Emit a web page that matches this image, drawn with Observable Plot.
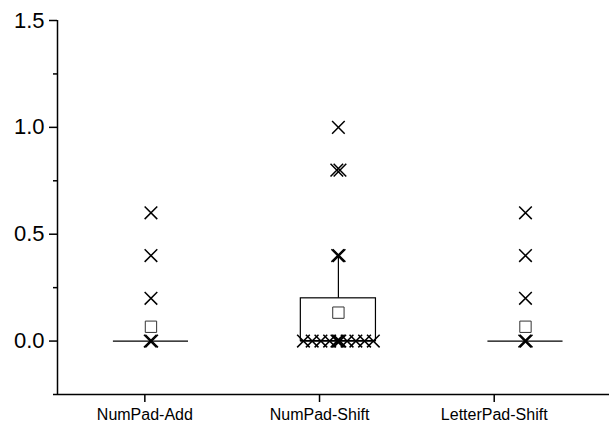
<!DOCTYPE html>
<html>
<head>
<meta charset="utf-8">
<script src="https://cdn.jsdelivr.net/npm/d3@7"></script>
<script src="https://cdn.jsdelivr.net/npm/@observablehq/plot@0.6"></script>
<style>
  html, body { margin: 0; padding: 0; background: #fff; }
  #chart svg { display: block; }
</style>
</head>
<body>
<div id="chart"></div>
<script>
// Categories and where their labels sit on the axis
const groups = ["NumPad-Add", "NumPad-Shift", "LetterPad-Shift"];
const groupTicks = [1, 2, 3];
// Box centres along the x axis
const boxPositions = [1.035, 2.108, 3.179];
const boxHalfWidth = 0.215;

// Box statistics per category
const q1 = [0, 0, 0];
const q3 = [0, 0.2, 0];
const medians = [0, 0, 0];
const whiskerLow = [0, 0, 0];
const whiskerHigh = [0, 0.4, 0];
const means = [0.067, 0.133, 0.067];

// Individual observations: category index, spread from box centre, value
const pointGroup = [
  0, 0, 0, 0, 0,
  1, 1, 1, 1, 1, 1, 1, 1, 1, 1, 1, 1, 1, 1, 1, 1,
  2, 2, 2, 2, 2
];
const pointSpread = [
  -0.004, 0.004, 0, 0, 0,
  -0.2, -0.15, -0.1, -0.05, -0.008, 0, 0.008, 0.05, 0.1, 0.15, 0.2, -0.004, 0.004, -0.009, 0.009, 0,
  -0.004, 0.004, 0, 0, 0
];
const pointValue = [
  0, 0, 0.2, 0.4, 0.6,
  0, 0, 0, 0, 0, 0, 0, 0, 0, 0, 0, 0.4, 0.4, 0.8, 0.8, 1.0,
  0, 0, 0.2, 0.4, 0.6
];

// Y axis ticks
const majorTicks = [0, 0.5, 1.0, 1.5];
const minorTicks = [-0.25, 0.25, 0.75, 1.25];

const boxes = groups.map((g, i) => ({
  group: g, x: boxPositions[i], q1: q1[i], q3: q3[i], median: medians[i],
  lo: whiskerLow[i], hi: whiskerHigh[i], mean: means[i]
}));
const points = pointValue.map((v, i) => ({
  x: boxPositions[pointGroup[i]] + pointSpread[i], value: v
}));

const font = "'Liberation Sans', Arial, sans-serif";

const chart = Plot.plot({
  width: 610,
  height: 425,
  marginLeft: 57,
  marginRight: 1,
  marginTop: 20,
  marginBottom: 31,
  style: { fontFamily: font, background: "#fff", color: "#000" },
  x: { type: "linear", domain: [0.5, 3.66] },
  y: { domain: [-0.25, 1.5] },
  marks: [
    // boxes
    Plot.rect(boxes, {
      x1: d => d.x - boxHalfWidth, x2: d => d.x + boxHalfWidth,
      y1: "q1", y2: "q3", fill: "#fff", stroke: "#000", strokeWidth: 1.2
    }),
    // whiskers
    Plot.ruleX(boxes, { x: "x", y1: "q3", y2: "hi", stroke: "#000", strokeWidth: 1.2 }),
    Plot.ruleX(boxes, { x: "x", y1: "lo", y2: "q1", stroke: "#000", strokeWidth: 1.2 }),
    // medians
    Plot.ruleY(boxes, {
      y: "median", x1: d => d.x - boxHalfWidth, x2: d => d.x + boxHalfWidth,
      stroke: "#000", strokeWidth: 1.2
    }),
    // means
    Plot.dot(boxes, { x: "x", y: "mean", symbol: "square", r: 6.4, fill: "#fff", stroke: "#333", strokeWidth: 1 }),
    // observations
    Plot.dot(points, { x: "x", y: "value", symbol: "times", r: 5.8, stroke: "#000", strokeWidth: 1.5 }),
    // axis lines
    Plot.ruleX([0.5], { stroke: "#000", strokeWidth: 1.5 }),
    Plot.ruleY([-0.25], { stroke: "#000", strokeWidth: 1.5 }),
    // y axis
    Plot.axisY({
      ticks: majorTicks, tickFormat: d3.format(".1f"), tickSize: 8, tickPadding: 5,
      fontSize: 22, strokeWidth: 1.5, label: null, fill: "#000"
    }),
    Plot.axisY({
      ticks: minorTicks, tickFormat: () => "", tickSize: 4, strokeWidth: 1.5, label: null
    }),
    // x axis
    Plot.axisX({
      ticks: groupTicks, tickFormat: d => groups[d - 1], tickSize: 8, tickPadding: 6,
      fontSize: 16, strokeWidth: 1.5, label: null, fill: "#000"
    })
  ]
});

document.getElementById("chart").append(chart);
</script>
</body>
</html>
